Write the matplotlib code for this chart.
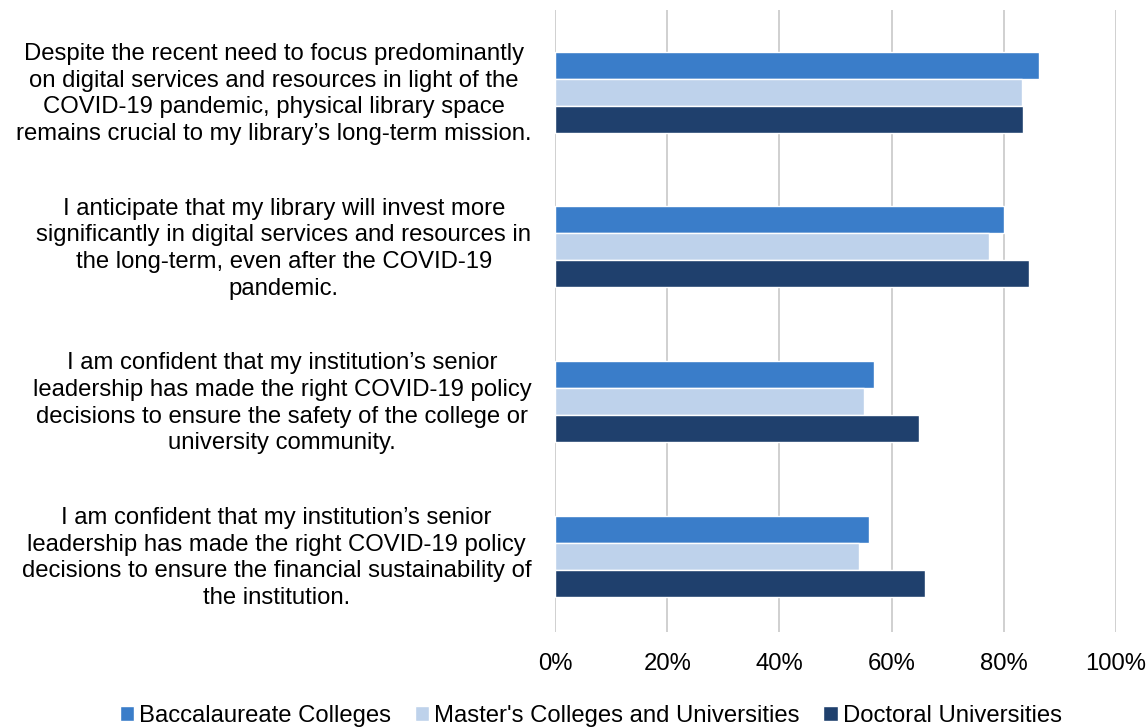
import numpy as np
import matplotlib.pyplot as plt
import matplotlib.transforms as mtransforms

plt.rcParams['font.family'] = ['Liberation Sans', 'DejaVu Sans']

statements = [
    "Despite the recent need to focus predominantly\non digital services and resources in light of the\nCOVID-19 pandemic, physical library space\nremains crucial to my library\u2019s long-term mission.",
    "I anticipate that my library will invest more\nsignificantly in digital services and resources in\nthe long-term, even after the COVID-19\npandemic.",
    "I am confident that my institution\u2019s senior\nleadership has made the right COVID-19 policy\ndecisions to ensure the safety of the college or\nuniversity community.",
    "I am confident that my institution\u2019s senior\nleadership has made the right COVID-19 policy\ndecisions to ensure the financial sustainability of\nthe institution.",
]
series_names = ["Baccalaureate Colleges", "Master's Colleges and Universities", "Doctoral Universities"]
baccalaureate = [86.3, 80.0, 56.8, 55.9]
masters = [83.2, 77.4, 55.0, 54.2]
doctoral = [83.4, 84.4, 64.8, 66.0]
colors = ['#3a7dc9', '#bed2eb', '#1f406d']

fs = 17.2

fig = plt.figure(figsize=(11.47, 7.28), dpi=100)
ax = fig.add_axes([0.4839, 0.132, 0.4891, 0.854])

y = np.arange(len(statements))
h = 0.175
for k, (vals, name, c) in enumerate(zip([baccalaureate, masters, doctoral], series_names, colors)):
    ax.barh(y + (k - 1) * h, vals, height=h, color=c, edgecolor='white', linewidth=1, label=name, zorder=3)

ax.set_xlim(0, 100)
ax.set_ylim(3.49, -0.53)
ax.set_xticks(np.arange(0, 101, 20))
ax.set_xticklabels([f"{v}%" for v in range(0, 101, 20)], fontsize=fs)
ax.set_yticks(y)
ax.set_yticklabels(statements, fontsize=fs, multialignment='center', linespacing=1.28)
ax.tick_params(axis='both', length=0)
ax.tick_params(axis='x', pad=15)
ax.tick_params(axis='y', pad=17)
ax.grid(axis='x', color='#c8c8c8', linewidth=1.2, zorder=0)
for s in ax.spines.values():
    s.set_visible(False)

# nudge the statement labels up a little
shift = mtransforms.ScaledTranslation(0, 3 / 100, fig.dpi_scale_trans)
for lbl in ax.get_yticklabels():
    lbl.set_transform(lbl.get_transform() + shift)

fig.legend(loc='lower center', bbox_to_anchor=(0.515, -0.028), ncol=3, frameon=False,
           fontsize=fs, handlelength=0.6, handleheight=0.6, handletextpad=0.2,
           columnspacing=1.0)

fig.savefig('out.png', dpi=100)
